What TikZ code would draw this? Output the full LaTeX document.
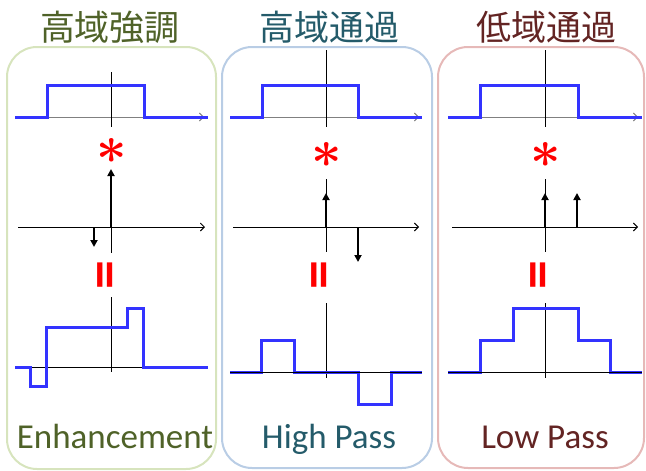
\documentclass[tikz,border=0pt]{standalone}
\usepackage{fontspec}
\setmainfont{Carlito}
\newfontfamily\cjkfont{Noto Sans CJK JP}
\usetikzlibrary{arrows.meta}
\definecolor{cOlive}{HTML}{4F6228}
\definecolor{cTeal}{HTML}{245B6A}
\definecolor{cMaroon}{HTML}{632423}
\definecolor{bGreen}{HTML}{D7E4BD}
\definecolor{bBlue}{HTML}{B9CDE5}
\definecolor{bPink}{HTML}{E6B9B8}
\definecolor{sigBlue}{HTML}{3333FF}
\begin{document}
\begin{tikzpicture}[x=1pt,y=-1pt,
  panel/.style={rounded corners=30pt, line width=2pt},
  sig/.style={draw=sigBlue, line width=3pt},
  gax/.style={draw=gray, line width=0.9pt, -{Straight Barb[length=4pt,width=8pt]}},
  ax/.style={line width=0.9pt, -{Straight Barb[length=4pt,width=8pt]}},
  vax/.style={line width=0.9pt},
  imp/.style={line width=2pt, -{Triangle[length=7pt,width=7pt]}},
  ttl/.style={font=\cjkfont\fontsize{35}{40}\selectfont},
  lbl/.style={anchor=base, font=\fontsize{35}{40}\selectfont},
  star/.style={text=red, inner sep=0pt},
  eq/.style={text=red, rotate=90, inner sep=0pt, font=\bfseries\fontsize{58}{58}\selectfont}
]
\useasboundingbox (0,0) rectangle (646,471);
% ---------------- Panel 1: Enhancement
\draw[panel, draw=bGreen] (7,47) rectangle (216,469);
\node[ttl, text=cOlive] (t1) at (110,27) {高域強調};
\draw[gax] (15,117) -- (204,117);
\draw[vax] (111,72) -- (111,127);
\draw[sig] (15,117) -- (47,117) -- (47,85) -- (144,85) -- (144,117) -- (208,117);
\node[star] (s1) at (112,151) {\scalebox{5.3}{\boldmath$\ast$}};
\draw[ax] (18,227) -- (205,227);
\draw[vax] (111,227) -- (111,253);
\draw[imp] (111,227) -- (111,169);
\draw[imp] (94,227) -- (94,247);
\node[eq] (e1) at (111,275) {=};
\draw[vax] (30,367) -- (143,367);
\draw[vax] (111,297) -- (111,372);
\draw[sig] (15,367) -- (30,367) -- (30,386) -- (46,386) -- (46,327) -- (127,327) -- (127,308) -- (143,308) -- (143,367) -- (208,367);
\node[lbl, text=cOlive] (l1) at (115,448) {Enhancement};
% ---------------- Panel 2: High Pass
\draw[panel, draw=bBlue] (222,47) rectangle (432,468);
\node[ttl, text=cTeal] (t2) at (329,27) {高域通過};
\draw[gax] (230,117) -- (419,117);
\draw[vax] (326,50) -- (326,127);
\draw[sig] (230,117) -- (262,117) -- (262,85) -- (358,85) -- (358,117) -- (422,117);
\node[star] (s2) at (327,155) {\scalebox{5.3}{\boldmath$\ast$}};
\draw[ax] (233,227) -- (419,227);
\draw[vax] (326,179) -- (326,252);
\draw[imp] (326,227) -- (326,193);
\draw[imp] (358,227) -- (358,262);
\node[eq] (e2) at (325,275) {=};
\draw[vax] (326,303) -- (326,378);
\draw[sig] (230,372) -- (261,372) -- (261,340) -- (294,340) -- (294,372) -- (358,372) -- (358,404) -- (391,404) -- (391,372) -- (422,372);
\draw[vax] (230,372) -- (422,372);
\node[lbl, text=cTeal] (l2) at (329,448) {High Pass};
% ---------------- Panel 3: Low Pass
\draw[panel, draw=bPink] (438,47) rectangle (644,468);
\node[ttl, text=cMaroon] (t3) at (546,27) {低域通過};
\draw[gax] (448,117) -- (638,117);
\draw[vax] (545,50) -- (545,127);
\draw[sig] (448,117) -- (480,117) -- (480,85) -- (578,85) -- (578,117) -- (642,117);
\node[star] (s3) at (546,155) {\scalebox{5.3}{\boldmath$\ast$}};
\draw[ax] (452,227) -- (638,227);
\draw[vax] (545,179) -- (545,252);
\draw[imp] (545,227) -- (545,193);
\draw[imp] (577,227) -- (577,193);
\node[eq] (e3) at (544,275) {=};
\draw[vax] (545,303) -- (545,378);
\draw[sig] (448,372) -- (480,372) -- (480,340) -- (513,340) -- (513,308) -- (578,308) -- (578,340) -- (610,340) -- (610,372) -- (642,372);
\draw[vax] (448,372) -- (642,372);
\node[lbl, text=cMaroon] (l3) at (545,448) {Low Pass};
\end{tikzpicture}
\end{document}
